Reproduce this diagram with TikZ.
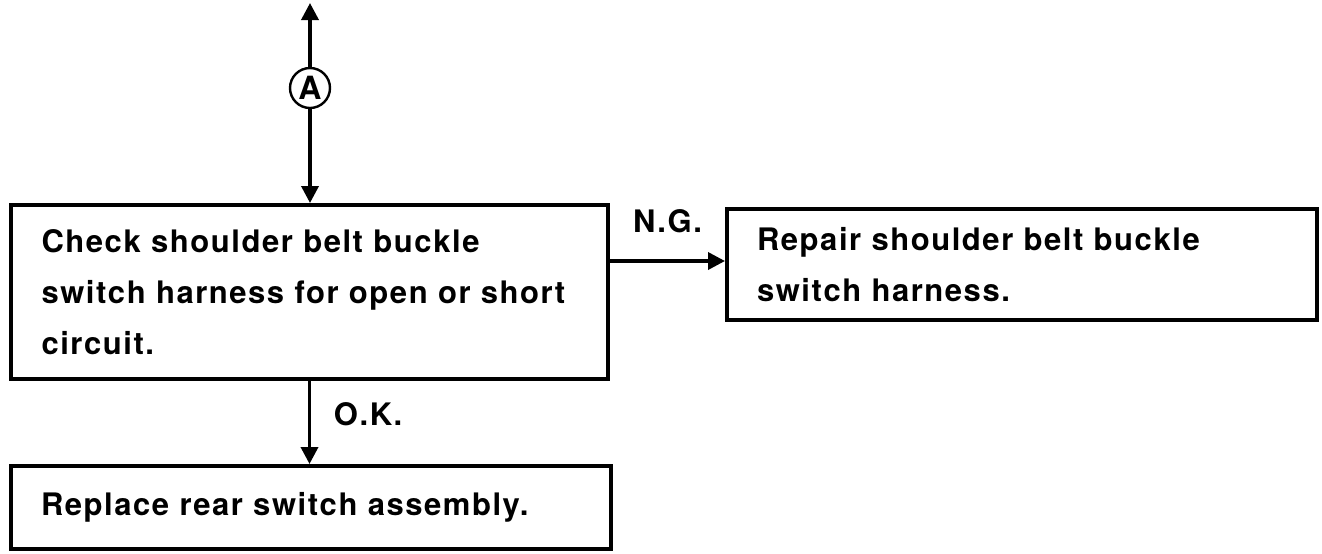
\documentclass[tikz,border=0pt]{standalone}
\usepackage{fontspec}
\setmainfont{TeX Gyre Heros}[LetterSpace=5]
\usetikzlibrary{arrows.meta,positioning}

\tikzset{
	box/.style={draw, line width=2pt, align=left, inner xsep=15pt,
		font=\fontsize{15.5}{25.5}\selectfont\bfseries},
	arr/.style={line width=1.8pt, -{Triangle[length=8.5pt,width=8.5pt]}},
	lbl/.style={font=\fontsize{15.5}{18}\selectfont\bfseries}
}

\begin{document}
\begin{tikzpicture}[x=0.5pt, y=-0.5pt]
	\useasboundingbox (0,0) rectangle (1322,553);

	\node[circle, draw, line width=1.2pt, minimum size=20pt, inner sep=0pt,
		font=\fontsize{16}{16}\selectfont\bfseries] (A) at (310,88) {A};
	\coordinate (top) at (310,3);

	\node[box, minimum width=298.5pt, minimum height=87pt, text width=268pt] (check) at (309.5,292)
		{Check shoulder belt buckle\\switch harness for open or short\\circuit.};
	\node[box, minimum width=295pt, minimum height=55.5pt, text width=265pt] (repair) at (1022,264.5)
		{Repair shoulder belt buckle\\switch harness.};
	\node[box, minimum width=300pt, minimum height=41.5pt, text width=270pt] (replace) at (311,507.5)
		{Replace rear switch assembly.};

	\coordinate (ng) at (0,261);

	\draw[arr] (A) -- (top);
	\draw[arr] (A) -- (A |- check.north);
	\draw[arr] (check.east |- ng) -- (repair.west |- ng)
		node[lbl, midway, above=10pt] {N.G.};
	\draw[arr] (check.south) -- (check.south |- replace.north)
		node[lbl, midway, right=8pt, yshift=4pt] {O.K.};
\end{tikzpicture}
\end{document}
